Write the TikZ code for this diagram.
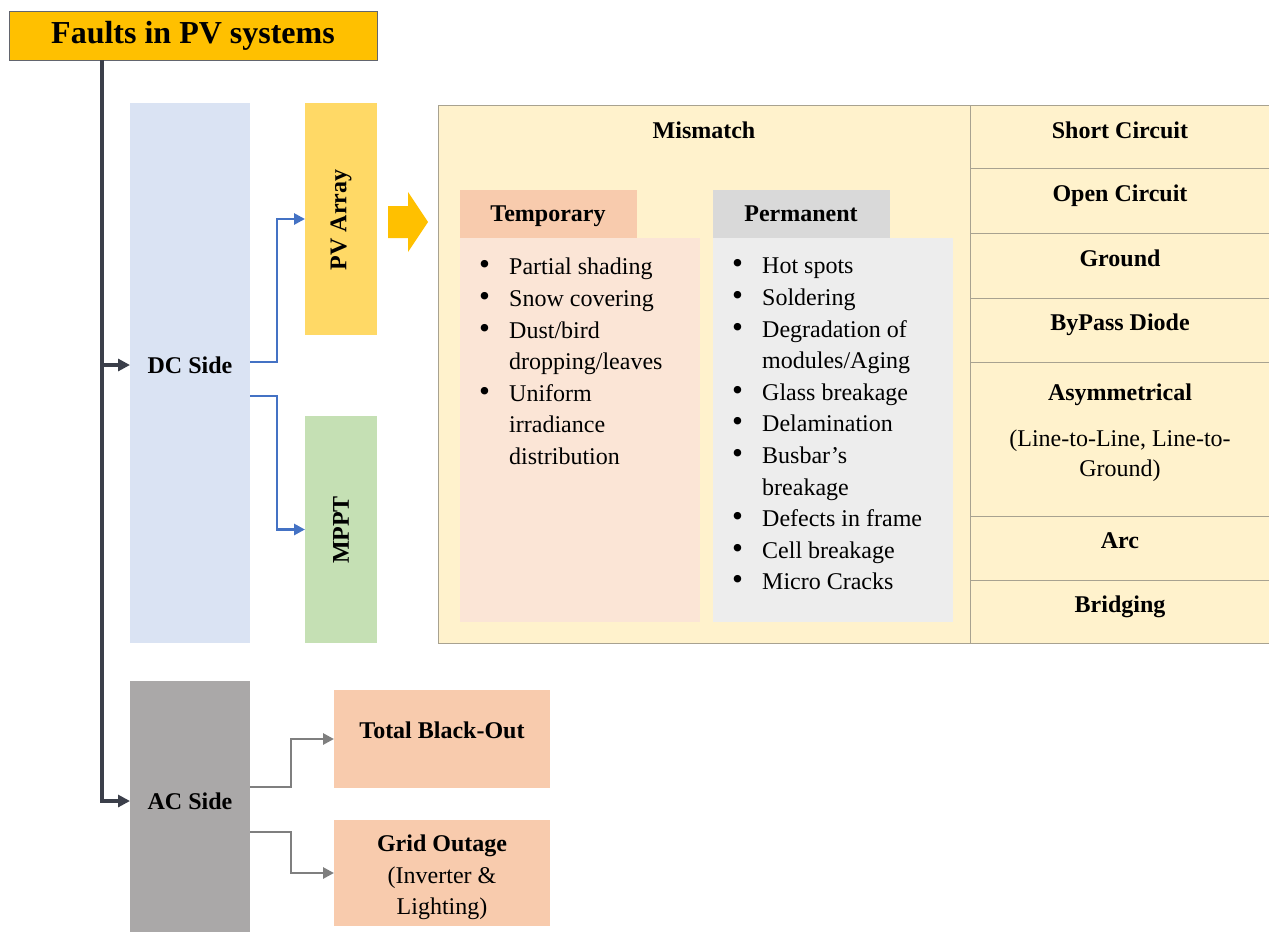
\documentclass[tikz,border=0pt]{standalone}
\usepackage{fontspec}
\setmainfont{Liberation Serif}
\usetikzlibrary{arrows.meta}
\definecolor{titlegold}{HTML}{FFC000}
\definecolor{dcblue}{HTML}{DAE3F3}
\definecolor{pvgold}{HTML}{FFD966}
\definecolor{mpptgreen}{HTML}{C5E0B4}
\definecolor{cream}{HTML}{FFF2CC}
\definecolor{peach}{HTML}{F8CBAD}
\definecolor{lightpeach}{HTML}{FBE5D6}
\definecolor{silver}{HTML}{D9D9D9}
\definecolor{lightsilver}{HTML}{EDEDED}
\definecolor{acgray}{HTML}{AAA8A8}
\definecolor{trunkgray}{HTML}{3B3F4A}
\definecolor{linkblue}{HTML}{4472C4}
\definecolor{linkgray}{HTML}{7F7F7F}
\definecolor{cellline}{HTML}{A8A290}
\newcommand{\itm}[1]{\makebox[30pt][l]{\scalebox{1.3}{\textbullet}}#1}
\newcommand{\cnt}[1]{\hspace*{30pt}#1}
\tikzset{
  panel/.style={anchor=north west, inner sep=0pt, outer sep=0pt, draw=none},
  cell/.style={panel, draw=cellline, fill=cream, line width=0.8pt, minimum width=299pt},
  lbl/.style={font=\fontsize{24}{29}\selectfont\bfseries, anchor=base, inner sep=0pt},
  plain/.style={font=\fontsize{24}{29}\selectfont, anchor=base, inner sep=0pt},
  bullets/.style={font=\fontsize{24}{31.6}\selectfont, anchor=north west, inner sep=0pt, align=left},
  trunkline/.style={draw=trunkgray, line width=3.5pt, -{Triangle[length=12pt,width=12pt]}},
  bluelink/.style={draw=linkblue, line width=2.8pt, -{Triangle[length=11pt,width=11pt]}},
  graylink/.style={draw=linkgray, line width=2.8pt, -{Triangle[length=11pt,width=11pt]}}
}
\begin{document}
\begin{tikzpicture}[x=1pt, y=-1pt]
		%%%%% START %%%%%
		\useasboundingbox (0, 0) rectangle (1269, 932);
		
		\node[panel, fill=titlegold, draw=trunkgray!80, line width=1pt, minimum width=368pt, minimum height=49pt,
		      font=\fontsize{32}{36}\selectfont\bfseries] (title) at (9, 11) {Faults in PV systems};
		\coordinate (trunk) at (102, 0);
		
		% DC side
		\node[panel, fill=dcblue, minimum width=120pt, minimum height=540pt] (dc) at (130, 103) {};
		\node[lbl] (dcl) at (190, 373) {DC Side};
		\node[panel, fill=pvgold, minimum width=72pt, minimum height=232pt] (pv) at (305, 103) {};
		\node[lbl, anchor=center, rotate=90] (pvl) at (341, 220) {PV Array};
		\node[panel, fill=mpptgreen, minimum width=72pt, minimum height=227pt] (mppt) at (305, 416) {};
		\node[lbl, anchor=center, rotate=90] (mpptl) at (341, 530) {MPPT};
		
		\fill[titlegold] (388, 206) -- (408, 206) -- (408, 192) -- (428, 222) -- (408, 252) -- (408, 238) -- (388, 238) -- cycle;
		
		% mismatch
		\node[panel, fill=cream, draw=cellline, line width=0.8pt, minimum width=532pt, minimum height=538pt] (mm) at (438, 105) {};
		\node[lbl] (mml) at (704, 138) {Mismatch};
		\node[panel, fill=peach, minimum width=177pt, minimum height=48pt] (tmph) at (460, 190) {};
		\node[lbl] (tmphl) at (548, 221) {Temporary};
		\node[panel, fill=lightpeach, minimum width=240pt, minimum height=384pt] (tmpb) at (460, 238) {};
		\node[panel, fill=silver, minimum width=177pt, minimum height=48pt] (prmh) at (713, 190) {};
		\node[lbl] (prmhl) at (801, 221) {Permanent};
		\node[panel, fill=lightsilver, minimum width=240pt, minimum height=384pt] (prmb) at (713, 238) {};
		
		\node[bullets] (tmplist) at (479, 258) {\itm{Partial shading}\\ \itm{Snow covering}\\ \itm{Dust/bird}\\
		      \cnt{dropping/leaves}\\ \itm{Uniform}\\ \cnt{irradiance}\\ \cnt{distribution}};
		\node[bullets] (prmlist) at (732, 258) {\itm{Hot spots}\\ \itm{Soldering}\\ \itm{Degradation of}\\
		      \cnt{modules/Aging}\\ \itm{Glass breakage}\\ \itm{Delamination}\\ \itm{Busbar’s}\\ \cnt{breakage}\\
		      \itm{Defects in frame}\\ \itm{Cell breakage}\\ \itm{Micro Cracks}};
		
		% fault types
		\node[cell, minimum height=63pt] (sc) at (970, 105) {};
		\node[cell, minimum height=65pt] (oc) at (970, 168) {};
		\node[cell, minimum height=65pt] (gr) at (970, 233) {};
		\node[cell, minimum height=64pt] (bp) at (970, 298) {};
		\node[cell, minimum height=154pt] (as) at (970, 362) {};
		\node[cell, minimum height=64pt] (ar) at (970, 516) {};
		\node[cell, minimum height=63pt] (br) at (970, 580) {};
		\node[lbl] (scl) at (1120, 138) {Short Circuit};
		\node[lbl] (ocl) at (1120, 201) {Open Circuit};
		\node[lbl] (grl) at (1120, 266) {Ground};
		\node[lbl] (bpl) at (1120, 330) {ByPass Diode};
		\node[lbl] (asl) at (1120, 400) {Asymmetrical};
		\node[plain] (asl2) at (1120, 446) {(Line-to-Line, Line-to-};
		\node[plain] (asl3) at (1120, 476) {Ground)};
		\node[lbl] (arl) at (1120, 548) {Arc};
		\node[lbl] (brl) at (1120, 612) {Bridging};
		
		% AC side
		\node[panel, fill=acgray, minimum width=120pt, minimum height=251pt] (ac) at (130, 681) {};
		\node[lbl] (acl) at (190, 809) {AC Side};
		\node[panel, fill=peach, minimum width=216pt, minimum height=98pt] (tbo) at (334, 690) {};
		\node[lbl] (tbol) at (442, 738) {Total Black-Out};
		\node[panel, fill=peach, minimum width=216pt, minimum height=106pt] (go) at (334, 820) {};
		\node[lbl] (gol) at (442, 851) {Grid Outage};
		\node[plain] (gol2) at (442, 883) {(Inverter \&};
		\node[plain] (gol3) at (442, 914) {Lighting)};
		
		% connectors
		\draw[trunkline] (title.south -| trunk) |- ([yshift=8pt]ac.west |- acl.base);
		\draw[trunkline] ([yshift=8pt]trunk |- dcl.base) -- ([yshift=8pt]dc.west |- dcl.base);
		\draw[bluelink] ([yshift=11pt]dc.east) -- ++(27, 0) |- (pv.west);
		\draw[bluelink] ([yshift=-23pt]dc.east) -- ++(27, 0) |- (mppt.west);
		\draw[graylink] ([yshift=19.5pt]ac.east) -- ++(41, 0) |- (tbo.west);
		\draw[graylink] ([yshift=-25.5pt]ac.east) -- ++(41, 0) |- (go.west);
		
		%%%%% END %%%%%
	\end{tikzpicture}
\end{document}
